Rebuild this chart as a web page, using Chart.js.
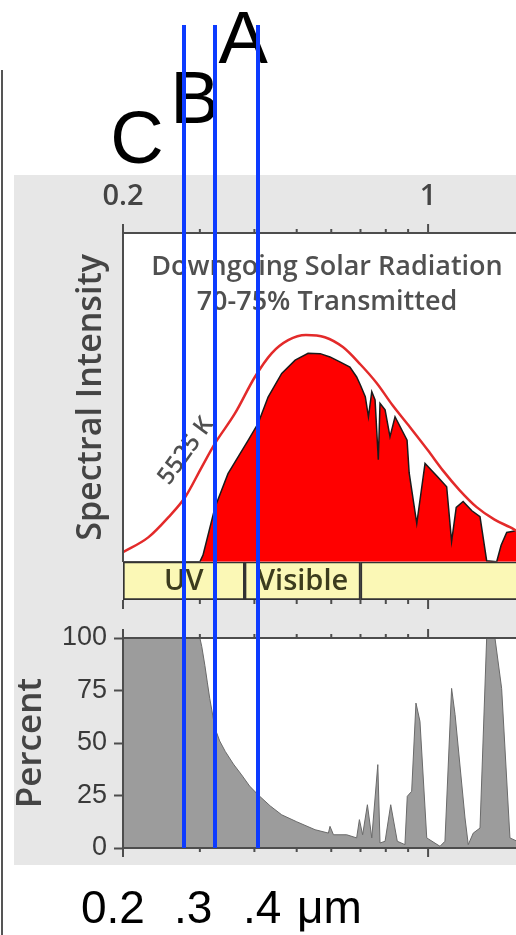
<!DOCTYPE html>
<html>
<head>
<meta charset="utf-8">
<script src="https://cdn.jsdelivr.net/npm/chart.js@4.4.1/dist/chart.umd.min.js"></script>
<style>
  html, body { margin: 0; padding: 0; background: #fff; }
  #wrap { position: relative; width: 516px; height: 935px; overflow: hidden; }
</style>
</head>
<body>
<div id="wrap"><canvas id="chart" width="516" height="935"></canvas></div>
<script>
// ── Data (wavelength in µm) ──────────────────────────────────────────────

// 5525 K blackbody outline
const bbWave = [0.200, 0.2285, 0.254, 0.2775, 0.303, 0.325, 0.361, 0.401, 0.438, 0.478, 0.525, 0.580, 0.638, 0.700, 0.763, 0.830, 0.909, 1.000, 1.082, 1.180, 1.292, 1.420, 1.540, 1.600];
const bbVals = [2.9, 7.4, 13.5, 19.6, 28.8, 36.0, 45.1, 56.2, 63.4, 67.4, 69.0, 68.3, 65.3, 60.0, 54.3, 47.5, 40.9, 33.8, 27.7, 21.8, 16.6, 12.8, 10.5, 9.3];

// downgoing solar radiation at the surface (red fill)
const solarWave = [0.200, 0.300, 0.305, 0.325, 0.348, 0.387, 0.408, 0.430, 0.462, 0.496, 0.531, 0.566, 0.596, 0.628, 0.662, 0.686, 0.700, 0.718, 0.730, 0.743, 0.756, 0.769, 0.776, 0.797, 0.818, 0.840, 0.895, 0.905, 0.942, 0.984, 1.050, 1.103, 1.132, 1.160, 1.203, 1.260, 1.315, 1.362, 1.436, 1.470, 1.514, 1.600];
const solarVals = [0, 0, 2.0, 16.6, 26.8, 36.9, 42.1, 50.1, 57.3, 61.3, 63.4, 63.3, 62.3, 60.8, 59.2, 56.2, 53.7, 50.2, 44.1, 51.7, 49.2, 31.0, 48.2, 46.2, 38.0, 44.1, 37.0, 27.0, 11.6, 29.9, 25.9, 22.8, 6.1, 16.5, 18.3, 15.5, 13.7, 0.3, 0, 5.0, 8.9, 9.5];

// percent absorbed (grey fill)
const absWave = [0.200, 0.300, 0.303, 0.308, 0.312, 0.316, 0.325, 0.333, 0.343, 0.358, 0.374, 0.390, 0.408, 0.435, 0.462, 0.500, 0.551, 0.591, 0.596, 0.607, 0.651, 0.686, 0.696, 0.708, 0.726, 0.743, 0.767, 0.776, 0.797, 0.821, 0.850, 0.885, 0.896, 0.917, 0.938, 0.958, 0.993, 1.065, 1.093, 1.132, 1.153, 1.215, 1.236, 1.269, 1.315, 1.362, 1.423, 1.474, 1.540, 1.600];
const absVals = [100, 100, 96, 87, 79, 71.3, 57, 51, 46, 40, 34.8, 29.5, 25.3, 20, 15.8, 12.5, 8.7, 7.1, 10.3, 6.3, 6.3, 4.8, 13.5, 6.3, 20.6, 4.8, 39.7, 2.4, 3.2, 20.6, 3.2, 1.6, 24.6, 27, 69, 60.3, 4.8, 0.8, 3.2, 76, 63.5, 14.3, 1.6, 7.1, 9.5, 100, 100, 76, 4.8, 3.2];

// spectral bands under the upper panel
const bandNames = ['UV', 'Visible', ''];
const bandStart = [0.2, 0.38, 0.70];
const bandEnd   = [0.38, 0.70, 1.8];

// x axis ticks
const xTicks      = [0.2, 0.3, 0.4, 0.5, 0.6, 0.7, 0.8, 0.9, 1];
const xTickLabels = ['0.2', '', '', '', '', '', '', '', '1'];
const xMajor      = [0.2, 1];
const percentTicks = [0, 25, 50, 75, 100];

// UV-A / B / C boundaries
const uvLines   = [0.276, 0.325, 0.408];
const uvLetters = ['C', 'B', 'A'];

const titleLines  = ['Downgoing Solar Radiation', '70-75% Transmitted'];
const curveLabel  = '5525 K';
const bottomLabels = ['0.2', '.3', '.4', 'μm'];

// ── Helpers ─────────────────────────────────────────────────────────────

const pts = (xs, ys) => xs.map((x, i) => ({ x, y: ys[i] }));
const INK = '#505050';
const SANS = '"Open Sans", sans-serif';
const ARIAL = '"Liberation Sans", Arial, sans-serif';

// ── Decorations drawn with the chart's own scales ───────────────────────

const decor = {
  id: 'decor',
  beforeDraw(chart) {
    const { ctx, chartArea: a, scales: s } = chart;
    ctx.save();
    ctx.fillStyle = '#fff';
    ctx.fillRect(0, 0, chart.width, chart.height);
    ctx.fillStyle = '#e7e7e7';
    ctx.fillRect(14, 175, chart.width - 14, 690);
    ctx.fillStyle = '#fff';
    ctx.fillRect(a.left, s.yI.top, a.right - a.left, s.yI.bottom - s.yI.top);
    ctx.fillRect(a.left, s.yP.top, a.right - a.left, s.yP.bottom - s.yP.top);
    // page edge rule
    ctx.strokeStyle = '#555';
    ctx.lineWidth = 2;
    ctx.beginPath(); ctx.moveTo(2, 70); ctx.lineTo(2, chart.height); ctx.stroke();
    ctx.restore();
  },

  afterDatasetsDraw(chart) {
    const { ctx, chartArea: a, scales: s } = chart;
    const x = s.x;
    ctx.save();

    // top frame of the percent panel
    ctx.strokeStyle = '#4d4d4d';
    ctx.lineWidth = 2;
    ctx.beginPath(); ctx.moveTo(a.left, s.yP.top); ctx.lineTo(a.right, s.yP.top); ctx.stroke();

    // tick marks on every horizontal rule
    const rows = [[s.xTop.bottom, -1], [s.yBand.bottom, 1], [s.yP.top, -1], [s.yP.bottom, 1]];
    rows.forEach(([y, dir]) => {
      xTicks.forEach(v => {
        const px = x.getPixelForValue(v);
        const len = xMajor.includes(v) ? 9 : 4;
        ctx.beginPath(); ctx.moveTo(px, y); ctx.lineTo(px, y + dir * len); ctx.stroke();
      });
    });

    // band names
    const meta = chart.getDatasetMeta(3);
    ctx.fillStyle = '#3c3c1e';
    ctx.font = `600 29px ${SANS}`;
    ctx.textAlign = 'center';
    ctx.textBaseline = 'middle';
    meta.data.forEach((el, i) => {
      if (!bandNames[i]) return;
      const p = el.getProps(['x', 'base', 'y'], true);
      ctx.fillText(bandNames[i], (p.x + p.base) / 2, p.y + 1);
    });

    // panel title
    ctx.fillStyle = INK;
    ctx.font = `600 27px ${SANS}`;
    titleLines.forEach((t, i) => ctx.fillText(t, 327, 267 + i * 35));

    // blackbody label, rotated along the curve
    ctx.save();
    ctx.translate(186, 451);
    ctx.rotate(-54 * Math.PI / 180);
    ctx.font = `600 24px ${SANS}`;
    ctx.fillText(curveLabel, 0, 0);
    ctx.restore();

    ctx.restore();
  },

  afterDraw(chart) {
    const { ctx, scales: s } = chart;
    ctx.save();

    // big A/B/C letters, then the blue boundary lines over them
    const dx = [-47, -20, -15];
    const base = [163, 123, 63];
    ctx.fillStyle = '#000';
    ctx.font = `74px ${ARIAL}`;
    ctx.textAlign = 'center';
    ctx.textBaseline = 'alphabetic';
    uvLines.forEach((v, i) => {
      ctx.fillText(uvLetters[i], s.x.getPixelForValue(v) + dx[i], base[i]);
    });

    ctx.strokeStyle = '#0d3bff';
    ctx.lineWidth = 4;
    uvLines.forEach(v => {
      const px = Math.round(s.x.getPixelForValue(v));
      ctx.beginPath(); ctx.moveTo(px, 25); ctx.lineTo(px, s.yP.bottom); ctx.stroke();
    });

    // hand-lettered wavelength labels under the figure
    ctx.font = `46px ${ARIAL}`;
    ctx.textAlign = 'left';
    const lx = [81, 174, 243, 297];
    bottomLabels.forEach((t, i) => ctx.fillText(t, lx[i], 923));

    ctx.restore();
  }
};

// ── Chart ───────────────────────────────────────────────────────────────

const frame = { display: true, color: '#4d4d4d', width: 2, z: 1 };
const noGrid = { display: false, drawTicks: false };

new Chart(document.getElementById('chart'), {
  type: 'line',
  data: {
    datasets: [
      {
        label: curveLabel,
        data: pts(bbWave, bbVals),
        xAxisID: 'x', yAxisID: 'yI',
        borderColor: '#e32a2a', borderWidth: 2.5,
        pointRadius: 0, fill: false,
        cubicInterpolationMode: 'monotone',
      },
      {
        label: titleLines[0],
        data: pts(solarWave, solarVals),
        xAxisID: 'x', yAxisID: 'yI',
        borderColor: '#1a1a1a', borderWidth: 1.5,
        backgroundColor: '#ff0000', fill: 'origin',
        pointRadius: 0, tension: 0,
      },
      {
        label: 'Percent',
        data: pts(absWave, absVals),
        xAxisID: 'x', yAxisID: 'yP',
        borderColor: '#6a6a6a', borderWidth: 1,
        backgroundColor: '#9c9c9c', fill: 'origin',
        pointRadius: 0, tension: 0,
      },
      {
        type: 'bar',
        label: 'bands',
        indexAxis: 'y',
        xAxisID: 'x', yAxisID: 'yBand',
        data: bandStart.map((b, i) => ({ x: [b, bandEnd[i]], y: 'bands' })),
        backgroundColor: '#fbf8b6',
        borderColor: '#333',
        borderWidth: 2,
        borderSkipped: false,
        barPercentage: 1,
        categoryPercentage: 1,
      },
    ],
  },
  options: {
    responsive: false,
    animation: false,
    layout: { padding: 0 },
    plugins: { legend: { display: false }, tooltip: { enabled: false } },
    scales: {
      x: {
        type: 'logarithmic', position: 'bottom', min: 0.2, max: 1.59,
        ticks: { display: false },
        grid: noGrid,
        border: frame,
        afterFit: sc => { sc.height = 87; },
      },
      xTop: {
        type: 'logarithmic', position: 'top', min: 0.2, max: 1.59,
        afterBuildTicks: sc => { sc.ticks = xTicks.map(v => ({ value: v })); },
        ticks: {
          autoSkip: false, maxRotation: 0, padding: 19,
          color: '#444', font: { family: SANS, size: 29, weight: '600' },
          callback: (v, i) => xTickLabels[i],
        },
        grid: noGrid,
        border: frame,
        afterFit: sc => { sc.height = 233; },
      },
      yP: {
        type: 'linear', position: 'left', stack: 'v', stackWeight: 210,
        min: 0, max: 100,
        afterBuildTicks: sc => { sc.ticks = percentTicks.map(v => ({ value: v })); },
        ticks: { color: '#3a3a3a', padding: 7, font: { family: ARIAL, size: 27 } },
        grid: { drawOnChartArea: false, tickLength: 9, tickWidth: 2, tickColor: '#4d4d4d' },
        border: frame,
        title: { display: true, text: 'Percent', color: '#444', padding: { top: 10 }, font: { family: SANS, size: 35, weight: '600' } },
        afterFit: sc => { sc.width = 123; },
      },
      yGap: {
        type: 'linear', position: 'left', stack: 'v', stackWeight: 38,
        ticks: { display: false }, grid: noGrid, border: { display: false },
        afterFit: sc => { sc.width = 123; },
      },
      yBand: {
        type: 'category', position: 'left', stack: 'v', stackWeight: 38.3,
        labels: ['bands'],
        ticks: { display: false }, grid: noGrid, border: { display: false },
        afterFit: sc => { sc.width = 123; },
      },
      yI: {
        type: 'linear', position: 'left', stack: 'v', stackWeight: 328.7,
        min: 0, max: 100,
        ticks: { display: false }, grid: noGrid,
        border: frame,
        title: { display: true, text: 'Spectral Intensity', color: '#444', padding: { top: 71 }, font: { family: SANS, size: 34, weight: '600' } },
        afterFit: sc => { sc.width = 123; },
      },
    },
  },
  plugins: [decor],
});
</script>
</body>
</html>
